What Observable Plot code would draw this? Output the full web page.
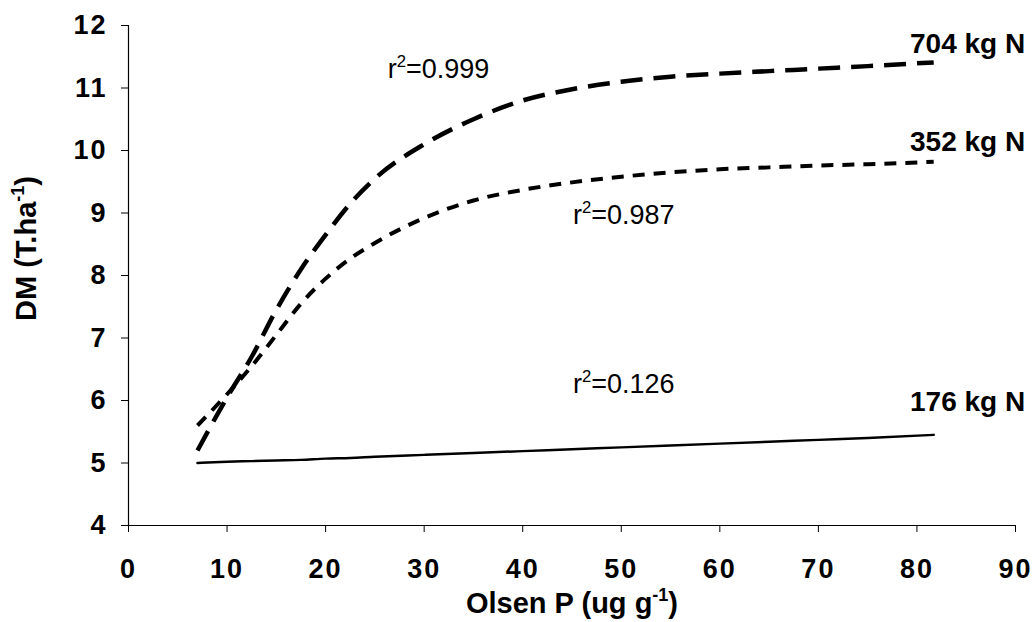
<!DOCTYPE html>
<html>
<head>
<meta charset="utf-8">
<script src="https://cdn.jsdelivr.net/npm/d3@7"></script>
<script src="https://cdn.jsdelivr.net/npm/@observablehq/plot@0.6"></script>
<style>
  html, body { margin: 0; padding: 0; background: #fff; }
  #chart svg { display: block; font-family: "Liberation Sans", Arial, sans-serif; }
  #chart [aria-label$="tick label"] { font-weight: bold; font-size: 27px; letter-spacing: 2px; }
  #chart [aria-label="series-label"] text { letter-spacing: 1.3px; }
  #chart [aria-label="r2-label"] text { letter-spacing: 3px; }
  #chart [aria-label="axis-title"] text { letter-spacing: 2px; }
</style>
</head>
<body>
<div id="chart"></div>
<script>
// Olsen P (ug g-1) sample points along the fitted curves
const olsenP = [7, 10, 12.5, 15, 17.5, 20, 22.5, 25, 30, 35, 40, 45, 50, 55, 60, 65, 70, 75, 81.7];
// DM (T/ha) for each N rate
const dm704 = [5.2, 6.05, 6.7, 7.45, 8.1, 8.65, 9.15, 9.55, 10.1, 10.5, 10.8, 10.98, 11.1, 11.18, 11.23, 11.27, 11.31, 11.35, 11.41];
const dm352 = [5.6, 6.1, 6.55, 7.05, 7.55, 7.95, 8.27, 8.52, 8.92, 9.2, 9.37, 9.49, 9.58, 9.65, 9.7, 9.73, 9.76, 9.78, 9.82];
const dm176 = [5.0, 5.02, 5.03, 5.04, 5.05, 5.07, 5.08, 5.1, 5.13, 5.16, 5.19, 5.22, 5.25, 5.28, 5.31, 5.34, 5.37, 5.4, 5.45];

// Series end labels
const seriesNames = ["704 kg N", "352 kg N", "176 kg N"];
const seriesLabelX = [79.3, 79.3, 79.3];
const seriesLabelY = [11.71, 10.13, 5.98];

// r² annotations
const r2Text = ["r²=0.999", "r²=0.987", "r²=0.126"];
const r2X = [26.3, 45.1, 45.1];
const r2Y = [11.3, 8.96, 6.26];

// Axis ticks
const xTicks = [0, 10, 20, 30, 40, 50, 60, 70, 80, 90];
const yTicks = [4, 5, 6, 7, 8, 9, 10, 11, 12];
const xTitle = "Olsen P (ug g⁻¹)";
const yTitle = "DM (T.ha⁻¹)";

const rows = (vals) => olsenP.map((x, i) => ({x, y: vals[i]}));
const seriesLabels = seriesNames.map((t, i) => ({t, x: seriesLabelX[i], y: seriesLabelY[i]}));
const r2Labels = r2Text.map((t, i) => ({t, x: r2X[i], y: r2Y[i]}));

const chart = Plot.plot({
  width: 1035,
  height: 622,
  marginTop: 25,
  marginBottom: 97,
  marginLeft: 128,
  marginRight: 20,
  style: {fontFamily: "Liberation Sans, Arial, sans-serif", color: "#000", background: "#fff"},
  x: {domain: [0, 90]},
  y: {domain: [4, 12]},
  marks: [
    Plot.axisX({ticks: xTicks, tickSize: 7, tickPadding: 26, fontSize: 27, fontWeight: "bold", label: null, stroke: "#000"}),
    Plot.axisY({ticks: yTicks, tickSize: 7, tickPadding: 14, fontSize: 27, fontWeight: "bold", label: null, stroke: "#000"}),
    Plot.ruleX([0], {stroke: "#000", strokeWidth: 1.2}),
    Plot.ruleY([4], {stroke: "#000", strokeWidth: 1.2}),
    Plot.line(rows(dm176), {x: "x", y: "y", stroke: "#000", strokeWidth: 2.5, curve: "monotone-x"}),
    Plot.line(rows(dm352), {x: "x", y: "y", stroke: "#000", strokeWidth: 4, strokeDasharray: "12,9", strokeLinecap: "butt", curve: "monotone-x"}),
    Plot.line(rows(dm704), {x: "x", y: "y", stroke: "#000", strokeWidth: 4.5, strokeDasharray: "22,11", strokeLinecap: "butt", curve: "monotone-x"}),
    Plot.text(seriesLabels, {x: "x", y: "y", text: "t", textAnchor: "start", lineAnchor: "middle", fontSize: 28, fontWeight: "bold", fill: "#000", ariaLabel: "series-label"}),
    Plot.text(r2Labels, {x: "x", y: "y", text: "t", textAnchor: "start", lineAnchor: "middle", fontSize: 27, fill: "#000", ariaLabel: "r2-label"}),
    Plot.text([xTitle], {frameAnchor: "bottom", dy: 78, textAnchor: "middle", lineAnchor: "middle", fontSize: 29, fontWeight: "bold", fill: "#000", ariaLabel: "axis-title"}),
    Plot.text([yTitle], {frameAnchor: "left", dx: -102, dy: -27, rotate: -90, textAnchor: "middle", lineAnchor: "middle", fontSize: 29, fontWeight: "bold", fill: "#000", ariaLabel: "axis-title"})
  ]
});

// Convert unicode superscripts into raised tspans
const supMap = {"²": "2", "¹": "1", "⁻": "-"};
chart.querySelectorAll("text").forEach(t => {
  const s = t.textContent;
  if (!/[²¹⁻]/.test(s)) return;
  const fsAttr = t.closest("[font-size]");
  const fs = fsAttr ? parseFloat(fsAttr.getAttribute("font-size")) : 26;
  t.textContent = "";
  const parts = s.split(/([²¹⁻]+)/).filter(p => p.length);
  let raised = false;
  parts.forEach(p => {
    const ts = document.createElementNS("http://www.w3.org/2000/svg", "tspan");
    if (/^[²¹⁻]+$/.test(p)) {
      ts.textContent = [...p].map(c => supMap[c]).join("");
      ts.setAttribute("font-size", (fs * 0.62).toFixed(1));
      ts.setAttribute("dy", (-fs * 0.42).toFixed(1));
      raised = true;
    } else {
      ts.textContent = p;
      if (raised) { ts.setAttribute("dy", (fs * 0.42).toFixed(1)); raised = false; }
    }
    t.appendChild(ts);
  });
});

document.getElementById("chart").appendChild(chart);
</script>
</body>
</html>
